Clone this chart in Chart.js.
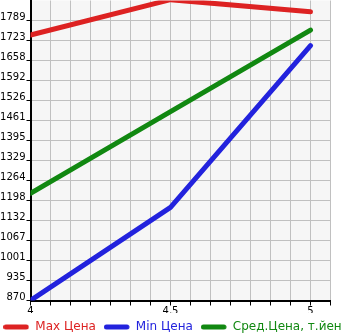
<!DOCTYPE html>
<html>
<head>
<meta charset="utf-8">
<script src="https://cdn.jsdelivr.net/npm/chart.js@4"></script>
<style>
  html, body { margin: 0; padding: 0; background: #fff; }
  #wrap { position: relative; width: 345px; height: 335px; overflow: hidden; }
  #priceChart { position: absolute; left: -13px; top: 0; }
</style>
</head>
<body>
<div id="wrap"><canvas id="priceChart" width="371" height="343"></canvas></div>
<script>
// chart data
const xValues = [4, 4.5, 5];
const maxPrice = [1742, 1858, 1818];
const minPrice = [870, 1176, 1707];
const avgPrice = [1222, 1490, 1758];
const seriesNames = ["Max Цена", "Min Цена", "Сред.Цена, т.йен"];
const seriesColors = ["#dd2222", "#2222dd", "#118811"];

// axis ticks
const xTickValues = [4, 4.5, 5];
const xTickLabels = ["4", "4,5", "5"];
const yTickLabels = ["870", "935", "1001", "1067", "1132", "1198", "1264", "1329",
  "1395", "1461", "1526", "1592", "1658", "1723", "1789"];
const yMin = 870;
const yStep = 65.68;

// short thick line used as legend marker
function legendLine(color) {
  const c = document.createElement("canvas");
  c.width = 26;
  c.height = 8;
  const g = c.getContext("2d");
  g.strokeStyle = color;
  g.lineWidth = 5;
  g.lineCap = "round";
  g.beginPath();
  g.moveTo(2.5, 4);
  g.lineTo(23, 4);
  g.stroke();
  return c;
}

function series(i, values) {
  return {
    label: seriesNames[i],
    data: xValues.map((x, k) => ({ x: x, y: values[k] })),
    borderColor: seriesColors[i],
    backgroundColor: seriesColors[i],
    borderWidth: 5,
    borderCapStyle: "round",
    borderJoinStyle: "round",
    pointRadius: 0,
    pointStyle: legendLine(seriesColors[i]),
    tension: 0,
  };
}

// light grey plot background
const plotBackground = {
  id: "plotBackground",
  beforeDraw(chart) {
    const { ctx, chartArea: a } = chart;
    ctx.save();
    ctx.fillStyle = "#f6f6f6";
    ctx.fillRect(a.left, a.top, a.right - a.left, a.bottom - a.top);
    ctx.restore();
  },
};

const tickFont = { family: "DejaVu Sans", size: 10 };

const ctx = document.getElementById("priceChart").getContext("2d");
const myChart = new Chart(ctx, {
  type: "line",
  data: {
    datasets: [series(0, maxPrice), series(1, minPrice), series(2, avgPrice)],
  },
  options: {
    responsive: false,
    animation: false,
    events: [],
    layout: { padding: 0 },
    plugins: {
      tooltip: { enabled: false },
      legend: {
        position: "bottom",
        labels: {
          usePointStyle: true,
          pointStyleWidth: 26,
          padding: 8,
          font: { family: "DejaVu Sans", size: 12 },
          // legend text in series colour
          generateLabels: (chart) =>
            Chart.defaults.plugins.legend.labels.generateLabels(chart).map((item) => ({
              ...item,
              fontColor: seriesColors[item.datasetIndex],
            })),
        },
      },
    },
    scales: {
      x: {
        type: "linear",
        min: 4,
        max: 5 + 1 / 14,
        afterBuildTicks: (scale) => {
          scale.ticks = Array.from({ length: 16 }, (_, k) => ({ value: 4 + k / 14 }));
        },
        afterFit: (scale) => {
          scale.height = 12.5;
          scale.paddingLeft = 0;
          scale.paddingRight = 27.5;
        },
        grid: { color: "#c0c0c0", tickColor: "#000", tickLength: 5 },
        border: { color: "#000", width: 2 },
        ticks: {
          autoSkip: false,
          maxRotation: 0,
          padding: 0,
          color: "#000",
          font: tickFont,
          callback: (value) => {
            const i = xTickValues.findIndex((v) => Math.abs(v - value) < 1e-6);
            return i < 0 ? "" : xTickLabels[i];
          },
        },
      },
      y: {
        min: yMin,
        max: yMin + 15 * yStep,
        afterBuildTicks: (scale) => {
          scale.ticks = yTickLabels.map((_, i) => ({ value: yMin + i * yStep }));
        },
        afterFit: (scale) => {
          scale.width = 43.5;
          scale.paddingTop = 0.5;
          scale.paddingBottom = 0;
        },
        grid: { color: "#c0c0c0", tickColor: "#000", tickLength: 4 },
        border: { color: "#000", width: 2 },
        ticks: {
          autoSkip: false,
          padding: 1,
          labelOffset: -3,
          color: "#000",
          font: tickFont,
          callback: (value, index) => yTickLabels[index],
        },
      },
    },
  },
  plugins: [plotBackground],
});
</script>
</body>
</html>
